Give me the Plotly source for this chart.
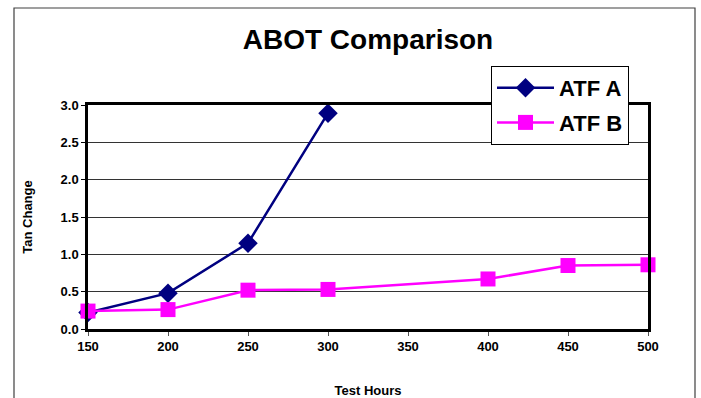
import plotly.graph_objects as go

hours_a = [150, 200, 250, 300]
tan_a = [0.22, 0.48, 1.15, 2.89]
hours_b = [150, 200, 250, 300, 400, 450, 500]
tan_b = [0.24, 0.26, 0.52, 0.53, 0.67, 0.85, 0.86]
x_ticks = [150, 200, 250, 300, 350, 400, 450, 500]
y_ticks = [0.0, 0.5, 1.0, 1.5, 2.0, 2.5, 3.0]
y_tick_labels = ["0.0", "0.5", "1.0", "1.5", "2.0", "2.5", "3.0"]

FONT = "Liberation Sans, Arial, sans-serif"

fig = go.Figure()
fig.add_trace(go.Scatter(
    x=hours_a, y=tan_a, name="<b>ATF A</b>", mode="lines+markers",
    line=dict(color="#000080", width=2.5),
    marker=dict(symbol="diamond", size=15, color="#000080"),
    cliponaxis=False, legendgroup="a",
))
fig.add_trace(go.Scatter(
    x=hours_b, y=tan_b, name="<b>ATF B</b>", mode="lines+markers",
    line=dict(color="#FF00FF", width=2.5),
    marker=dict(symbol="square", size=15, color="#FF00FF"),
    cliponaxis=False, legendgroup="b",
))

fig.update_layout(
    width=701, height=398,
    margin=dict(l=88, r=53, t=105, b=69, autoexpand=False),
    paper_bgcolor="white", plot_bgcolor="white",
    font=dict(family=FONT, color="black"),
    title=dict(text="ABOT Comparison", x=0.5, xanchor="center",
               xref="paper", y=1 - 39 / 398, yanchor="middle",
               font=dict(size=28, family=FONT, color="black", weight="bold")),
    showlegend=True,
    legend=dict(
        x=(491 - 88) / 560, y=(329 - 66) / 224, xanchor="left", yanchor="top",
        bgcolor="white", bordercolor="black", borderwidth=1,
        font=dict(size=22, family=FONT, color="black", weight="bold"),
        itemwidth=57, tracegroupgap=3, traceorder="grouped",
    ),
    xaxis=dict(
        range=[150, 500], tickmode="array", tickvals=x_ticks,
        ticktext=[str(v) for v in x_ticks], automargin=False,
        showgrid=False, zeroline=False,
        showline=True, linecolor="black", linewidth=2.5, mirror=True,
        ticks="outside", ticklen=4, tickcolor="#555555", tickwidth=1,
        tickfont=dict(size=13, family=FONT, color="black", weight="bold"),
        title=dict(text="Test Hours", standoff=33,
                   font=dict(size=13, family=FONT, color="black", weight="bold")),
    ),
    yaxis=dict(
        range=[0, 3.0], tickmode="array", tickvals=y_ticks,
        ticktext=y_tick_labels, automargin=False,
        showgrid=True, gridcolor="#333333", gridwidth=1, zeroline=False,
        showline=True, linecolor="black", linewidth=2.5, mirror=True,
        ticks="outside", ticklen=4, tickcolor="black", tickwidth=1,
        tickfont=dict(size=13, family=FONT, color="black", weight="bold"),
        title=dict(text="Tan Change", standoff=26,
                   font=dict(size=13, family=FONT, color="black", weight="bold")),
    ),
    shapes=[dict(
        type="rect", xref="paper", yref="paper",
        x0=(14 - 88) / 560, x1=(695 - 88) / 560,
        y0=-0.5, y1=(329 - 8) / 224,
        line=dict(color="#404040", width=1.2), layer="below",
    )],
)

fig.write_html("out.html")
